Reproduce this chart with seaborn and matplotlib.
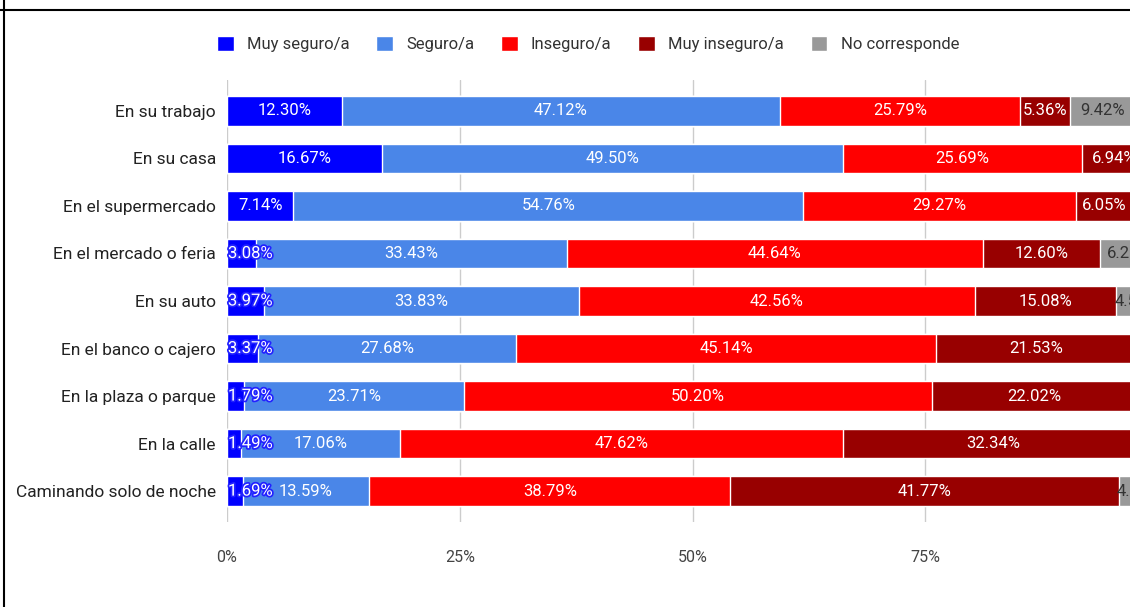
import matplotlib
matplotlib.use("Agg")
import matplotlib.pyplot as plt
import matplotlib.patheffects as pe
from matplotlib.lines import Line2D
from matplotlib.ticker import FuncFormatter
import numpy as np
import pandas as pd
import seaborn as sns

lugares = [
    "En su trabajo",
    "En su casa",
    "En el supermercado",
    "En el mercado o feria",
    "En su auto",
    "En el banco o cajero",
    "En la plaza o parque",
    "En la calle",
    "Caminando solo de noche",
]
niveles = ["Muy seguro/a", "Seguro/a", "Inseguro/a", "Muy inseguro/a", "No corresponde"]
colores = ["#0000ff", "#4a86e8", "#ff0000", "#980000", "#999999"]

muy_seguro = [12.30, 16.67, 7.14, 3.08, 3.97, 3.37, 1.79, 1.49, 1.69]
seguro = [47.12, 49.50, 54.76, 33.43, 33.83, 27.68, 23.71, 17.06, 13.59]
inseguro = [25.79, 25.69, 29.27, 44.64, 42.56, 45.14, 50.20, 47.62, 38.79]
muy_inseguro = [5.36, 6.94, 6.05, 12.60, 15.08, 21.53, 22.02, 32.34, 41.77]
no_corresponde = [9.42, 1.20, 2.78, 6.25, 4.56, 2.28, 2.28, 1.49, 4.16]

valores = np.array([muy_seguro, seguro, inseguro, muy_inseguro, no_corresponde])
acumulado = valores.cumsum(axis=0)

rows = []
for i, nivel in enumerate(niveles):
    for j, lugar in enumerate(lugares):
        rows.append({"lugar": lugar, "nivel": nivel, "fin": acumulado[i, j]})
df = pd.DataFrame(rows)

sns.set_theme(style="white")
plt.rcParams["font.family"] = ["Roboto", "DejaVu Sans"]

fig = plt.figure(figsize=(11.3, 6.07), dpi=100)
ax = fig.add_axes([227 / 1130, 1 - 522 / 607, 931 / 1130, 442 / 607])

# barras apiladas: se dibuja el acumulado de mayor a menor
sns.barplot(
    data=df,
    x="fin",
    y="lugar",
    hue="nivel",
    order=lugares,
    hue_order=niveles[::-1],
    palette=dict(zip(niveles, colores)),
    dodge=False,
    width=0.62,
    saturation=1,
    orient="h",
    ax=ax,
)

for i, nivel in enumerate(niveles):
    for j in range(len(lugares)):
        ancho = valores[i, j]
        inicio = acumulado[i, j] - ancho
        x = inicio + ancho / 2
        efectos = None
        if i == 0:
            x = max(x, inicio + 2.5)
            if ancho < 5:
                efectos = [pe.withStroke(linewidth=2.5, foreground="#2222ff")]
        if i == 4:
            # los grises muy finos quedan fuera del recorte
            if ancho < 3:
                continue
            if ancho > 8:
                x = min(x, 94.0)
        color = "#333333" if i == 4 else "white"
        ax.text(
            x, j, f"{ancho:.2f}%", ha="center", va="center",
            fontsize=12, color=color, path_effects=efectos,
        )

ax.set_xlim(0, 100)
ax.set_ylim(8.65, -0.65)
ax.set_xticks([0, 25, 50, 75, 100])
ax.xaxis.set_major_formatter(FuncFormatter(lambda v, p: f"{v:.0f}%"))
ax.grid(axis="x", color="#cccccc", linewidth=1)
ax.set_axisbelow(True)
ax.axvline(0, color="#333333", linewidth=1.2, zorder=0.5)
for s in ax.spines.values():
    s.set_visible(False)
ax.set_xlabel("")
ax.set_ylabel("")
ax.tick_params(axis="x", length=0, pad=20, labelsize=11.5, labelcolor="#444444")
ax.tick_params(axis="y", length=0, pad=8, labelsize=12.5, labelcolor="#222222")

handles, labels = ax.get_legend_handles_labels()
orden = [labels.index(n) for n in niveles]
ax.get_legend().remove()
fig.legend(
    [handles[k] for k in orden], niveles,
    loc="center", bbox_to_anchor=(588 / 1130, 1 - 44 / 607),
    ncol=5, frameon=False, fontsize=12, handlelength=1.0, handleheight=1.0,
    columnspacing=1.6, handletextpad=0.8, labelcolor="#333333",
)

# marco del recorte
fig.add_artist(Line2D([0, 1], [1 - 10 / 607] * 2, color="black", linewidth=1.5))
fig.add_artist(Line2D([4 / 1130] * 2, [0, 1], color="black", linewidth=1.5))

fig.savefig("out.png", dpi=100)
